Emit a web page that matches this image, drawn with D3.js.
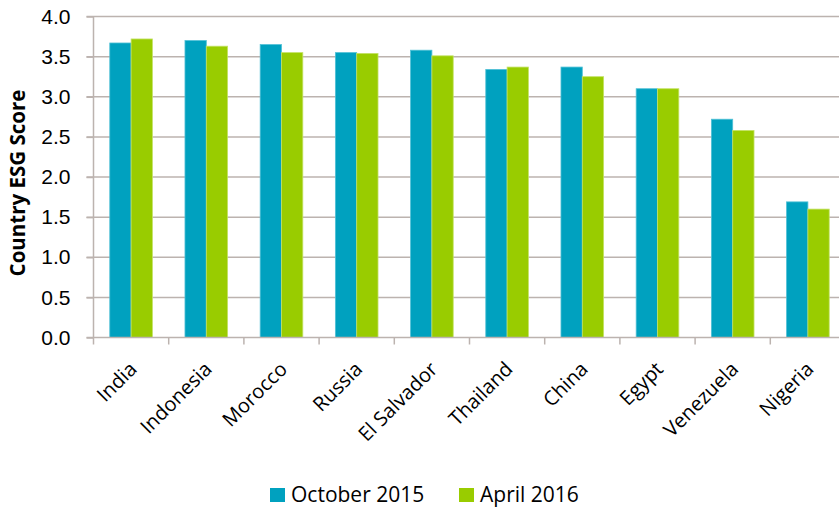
<!DOCTYPE html>
<html>
<head>
<meta charset="utf-8">
<script src="https://cdn.jsdelivr.net/npm/d3@7"></script>
<style>
  body { margin: 0; background: #fff; }
  svg { display: block; font-family: "Open Sans", sans-serif; }
</style>
</head>
<body>
<svg id="chart" width="839" height="507"></svg>
<script>
// Data
var countries = ['India', 'Indonesia', 'Morocco', 'Russia', 'El Salvador', 'Thailand', 'China', 'Egypt', 'Venezuela', 'Nigeria'];
var october2015 = [3.67, 3.70, 3.65, 3.55, 3.58, 3.34, 3.37, 3.10, 2.72, 1.69];
var april2016 = [3.72, 3.63, 3.55, 3.54, 3.51, 3.37, 3.25, 3.10, 2.58, 1.60];
var seriesNames = ['October 2015', 'April 2016'];
var colors = ['#00a1bf', '#99cc00'];
var yTicks = [0, 0.5, 1, 1.5, 2, 2.5, 3, 3.5, 4];

var margin = {top: 16.5, left: 93.5};
var width = 752, height = 321;

var svg = d3.select('#chart');
var g = svg.append('g')
	.attr('transform', 'translate(' + margin.left + ',' + margin.top + ')');

var x = d3.scaleBand()
	.domain(countries)
	.range([0, width])
	.paddingInner(0.433)
	.paddingOuter(0.2165);

var x1 = d3.scaleBand()
	.domain(seriesNames)
	.range([0, x.bandwidth()]);

var y = d3.scaleLinear()
	.domain([0, 4])
	.range([height, 0]);

// Gridlines
g.selectAll('.grid')
	.data(yTicks.slice(1))
	.enter().append('line')
	.attr('x1', -7)
	.attr('x2', width)
	.attr('y1', function(d) { return y(d); })
	.attr('y2', function(d) { return y(d); })
	.style('stroke', '#bcb3af')
	.style('stroke-width', 1.5);

// Bars
var rows = countries.map(function(c, i) {
	return {country: c, values: [october2015[i], april2016[i]]};
});

var groups = g.selectAll('.group')
	.data(rows)
	.enter().append('g')
	.attr('transform', function(d) { return 'translate(' + x(d.country) + ',0)'; });

groups.selectAll('rect')
	.data(function(d) { return d.values.map(function(v, i) { return {name: seriesNames[i], value: v, i: i}; }); })
	.enter().append('rect')
	.attr('x', function(d) { return x1(d.name); })
	.attr('width', x1.bandwidth())
	.attr('y', function(d) { return y(d.value); })
	.attr('height', function(d) { return height - y(d.value); })
	.style('fill', function(d) { return colors[d.i]; })
	.style('stroke', function(d) { return d.i == 0 ? '#4fc0d6' : '#c4e266'; })
	.style('stroke-width', 0.8);

// Y axis
var yAxis = g.append('g')
	.call(d3.axisLeft(y).tickValues(yTicks).tickFormat(d3.format('.1f')).tickSize(7).tickPadding(16));
yAxis.select('.domain').style('stroke', '#bcb3af').style('stroke-width', 1.5).attr('d', 'M0,' + height + 'V0');
yAxis.selectAll('.tick line').style('stroke', '#bcb3af').style('stroke-width', 1.5);
yAxis.selectAll('.tick text').style('font-size', '21px').style('fill', '#000');

// X axis with ticks between categories
var xAxis = g.append('g').attr('transform', 'translate(0,' + height + ')');
xAxis.append('line')
	.attr('x1', -7).attr('x2', width)
	.style('stroke', '#bcb3af').style('stroke-width', 1.5);
var step = x.step();
xAxis.selectAll('.xtick')
	.data(d3.range(countries.length + 1))
	.enter().append('line')
	.attr('x1', function(d) { return d * step; })
	.attr('x2', function(d) { return d * step; })
	.attr('y1', 0).attr('y2', 7)
	.style('stroke', '#bcb3af').style('stroke-width', 1.5);

xAxis.selectAll('.xlabel')
	.data(countries)
	.enter().append('text')
	.attr('transform', function(d) { return 'translate(' + (x(d) + x.bandwidth() / 2 - 3) + ',23) rotate(-45)'; })
	.style('text-anchor', 'end')
	.style('font-size', '20px')
	.attr('dy', '0.7em')
	.text(function(d) { return d; });

// Y axis title
svg.append('text')
	.attr('transform', 'translate(25,' + (margin.top + height / 2 + 6) + ') rotate(-90)')
	.style('text-anchor', 'middle')
	.style('font-size', '20.5px')
	.style('font-weight', 'bold')
	.text('Country ESG Score');

// Legend
var legend = svg.append('g').attr('transform', 'translate(270,488)');
var lx = [0, 189];
seriesNames.forEach(function(name, i) {
	legend.append('rect')
		.attr('x', lx[i]).attr('y', 0)
		.attr('width', 15).attr('height', 14)
		.style('fill', colors[i]);
	legend.append('text')
		.attr('x', lx[i] + 21).attr('y', 13.5)
		.style('font-size', '21px')
		.text(name);
});
</script>
</body>
</html>
